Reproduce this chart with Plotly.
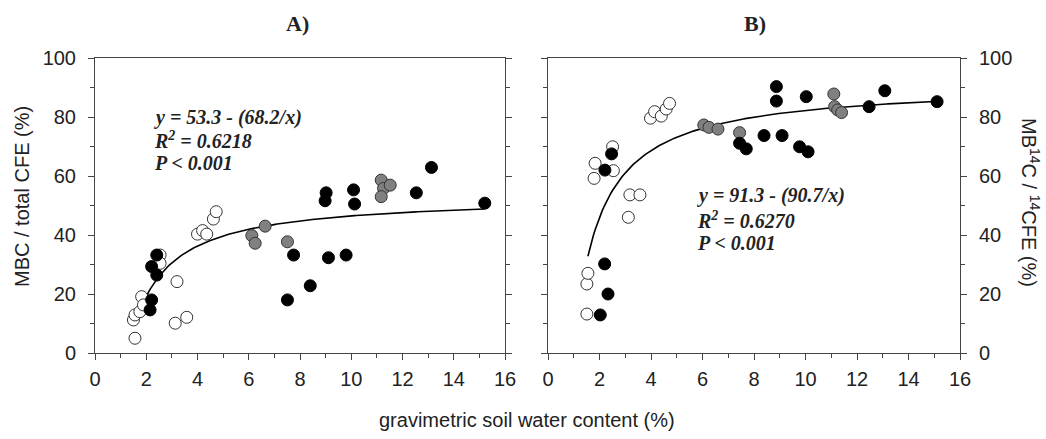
import numpy as np
import plotly.graph_objects as go

W, H = 1046, 439

# ---------------- data ----------------
# Panel A: MBC / total CFE (%)
a_open_x = [1.5, 1.56, 1.56, 1.75, 1.82, 1.89, 2.54, 2.54, 3.13, 3.2, 3.58, 4.0, 4.2, 4.36, 4.62, 4.73]
a_open_y = [11.2, 12.9, 5.0, 14.0, 19.1, 16.3, 33.2, 30.4, 10.1, 24.2, 12.1, 40.3, 41.5, 40.3, 45.4, 47.9]
a_black_x = [2.15, 2.21, 2.21, 2.41, 2.41, 7.51, 7.75, 8.4, 8.98, 9.02, 9.11, 9.8, 10.09, 10.13, 12.54, 13.13, 15.21]
a_black_y = [14.6, 18.0, 29.3, 26.4, 33.2, 18.0, 33.2, 22.8, 51.6, 54.3, 32.3, 33.2, 55.3, 50.5, 54.3, 62.9, 50.8]
a_gray_x = [6.12, 6.25, 6.64, 7.51, 11.17, 11.26, 11.17, 11.52]
a_gray_y = [39.8, 37.2, 43.0, 37.7, 58.6, 55.8, 53.0, 56.9]
a_fit = (53.3, 68.2)

# Panel B: MB14C / 14CFE (%)
b_open_x = [1.51, 1.51, 1.55, 1.79, 1.83, 2.51, 2.54, 3.12, 3.18, 3.57, 3.98, 4.14, 4.4, 4.59, 4.72]
b_open_y = [13.2, 23.4, 27.0, 59.2, 64.3, 69.9, 61.8, 46.0, 53.6, 53.6, 79.6, 81.8, 80.3, 82.7, 84.6]
b_black_x = [2.03, 2.2, 2.33, 2.21, 2.47, 7.44, 7.7, 8.39, 8.87, 8.87, 9.09, 9.77, 10.1, 10.03, 12.47, 13.08, 15.11]
b_black_y = [12.9, 30.2, 20.0, 62.0, 67.5, 71.1, 69.2, 73.7, 90.3, 85.4, 73.7, 69.9, 68.2, 86.9, 83.5, 88.9, 85.2]
b_gray_x = [6.05, 6.25, 6.6, 7.44, 11.1, 11.13, 11.25, 11.4]
b_gray_y = [77.3, 76.5, 75.9, 74.7, 87.8, 83.5, 82.4, 81.5]
b_fit = (91.3, 90.7)

fit_x_range = (1.55, 15.2)

x_ticks = [0, 2, 4, 6, 8, 10, 12, 14, 16]
y_ticks = [0, 20, 40, 60, 80, 100]

# ---------------- figure ----------------
fig = go.Figure()

def add_panel(xa, ya, ox, oy, bx, by, gx, gy, fit):
    xs = np.linspace(fit_x_range[0], fit_x_range[1], 200)
    ys = fit[0] - fit[1] / xs
    fig.add_trace(go.Scatter(x=xs, y=ys, mode="lines", xaxis=xa, yaxis=ya,
                             line=dict(color="black", width=1.6), showlegend=False, hoverinfo="skip"))
    common = dict(mode="markers", xaxis=xa, yaxis=ya, showlegend=False)
    fig.add_trace(go.Scatter(x=ox, y=oy, marker=dict(size=12, color="white",
                             line=dict(color="#333", width=1)), **common))
    fig.add_trace(go.Scatter(x=gx, y=gy, marker=dict(size=12, color="#808080",
                             line=dict(color="#333", width=1)), **common))
    fig.add_trace(go.Scatter(x=bx, y=by, marker=dict(size=12, color="black",
                             line=dict(color="black", width=1)), **common))

add_panel("x", "y", a_open_x, a_open_y, a_black_x, a_black_y, a_gray_x, a_gray_y, a_fit)
add_panel("x2", "y2", b_open_x, b_open_y, b_black_x, b_black_y, b_gray_x, b_gray_y, b_fit)

def px_x(p):
    return p / W

def px_y(p):
    return 1 - p / H

axis_line = "#444"
tickfont = dict(family="Liberation Sans, Arial", size=20, color="#222")

xcommon = dict(range=[0, 16], tickvals=x_ticks, ticks="outside", ticklen=6, tickwidth=1,
               tickcolor=axis_line, showline=True, linecolor=axis_line, linewidth=1,
               mirror=True, showgrid=False, zeroline=False, tickfont=tickfont,
               automargin=False, ticklabelstandoff=2,
               minor=dict(dtick=1, ticks="outside", ticklen=4, tickcolor=axis_line, showgrid=False))
ycommon = dict(range=[0, 100], tickvals=y_ticks, ticks="outside", ticklen=6, tickwidth=1,
               tickcolor=axis_line, showline=True, linecolor=axis_line, linewidth=1,
               mirror="ticks", showgrid=False, zeroline=False, tickfont=tickfont,
               automargin=False, ticklabelstandoff=8,
               minor=dict(dtick=10, ticks="outside", ticklen=4, tickcolor=axis_line, showgrid=False))

ydom = [px_y(353), px_y(58)]
fig.update_layout(
    width=W, height=H,
    margin=dict(l=0, r=0, t=0, b=0, autoexpand=False),
    paper_bgcolor="white", plot_bgcolor="white",
    xaxis=dict(domain=[px_x(95), px_x(505)], anchor="y", **xcommon),
    yaxis=dict(domain=ydom, anchor="x", side="left", **ycommon),
    xaxis2=dict(domain=[px_x(548), px_x(960)], anchor="y2", **xcommon),
    yaxis2=dict(domain=ydom, anchor="x2", side="right", **ycommon),
)

serif_bi = dict(family="Liberation Serif, Times New Roman, serif", size=20, color="#222")
ann = []
def text(x, y, s, font, angle=0, xanchor="center"):
    ann.append(dict(x=px_x(x), y=px_y(y), xref="paper", yref="paper", text=s, showarrow=False,
                    font=font, textangle=angle, xanchor=xanchor, yanchor="middle"))

text(297, 23, "<b>A)</b>", dict(family="Liberation Serif, serif", size=22, color="#222"))
text(755, 23, "<b>B)</b>", dict(family="Liberation Serif, serif", size=22, color="#222"))

text(152, 117, "<b><i>y = 53.3 - (68.2/x)</i></b>", serif_bi, xanchor="left")
text(152, 140, "<b><i>R<sup>2</sup> = 0.6218</i></b>", serif_bi, xanchor="left")
text(152, 163, "<b><i>P < 0.001</i></b>", serif_bi, xanchor="left")

text(695, 195, "<b><i>y = 91.3 - (90.7/x)</i></b>", serif_bi, xanchor="left")
text(695, 220, "<b><i>R<sup>2</sup> = 0.6270</i></b>", serif_bi, xanchor="left")
text(695, 243, "<b><i>P < 0.001</i></b>", serif_bi, xanchor="left")

labfont = dict(family="Liberation Sans, Arial", size=20, color="#222")
text(527, 420, "gravimetric soil water content (%)", labfont)
text(22, 197, "MBC / total CFE (%)", labfont, angle=-90)
text(1031, 202, "MB<sup>14</sup>C / <sup>14</sup>CFE (%)", labfont, angle=90)

fig.update_layout(annotations=ann)
fig.write_html("out.html")
